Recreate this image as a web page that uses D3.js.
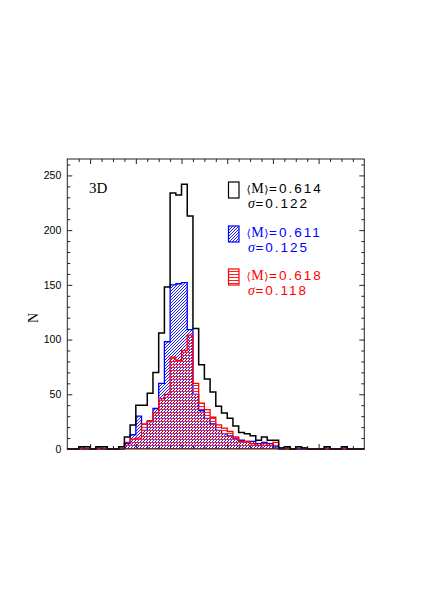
<!DOCTYPE html>
<html>
<head>
<meta charset="utf-8">
<script src="https://cdn.jsdelivr.net/npm/d3@7"></script>
<style>
body { margin: 0; background: #fff; }
text { fill: #000; }
</style>
</head>
<body>
<svg id="chart"></svg>
<script>
// histogram bins: lower edge of first bin and bin width (x axis has no labels)
const binStart = 0.1
const binWidth = 0.025

// counts per bin
const countsAll = [0, 0, 2, 2, 0, 2, 2, 0, 0, 2,
    11, 22, 40, 40, 51, 70, 106, 148, 234, 232,
    242, 213, 110, 77, 64, 52, 39, 33, 28, 21,
    15, 14, 12, 8, 11, 8, 8, 1, 2, 0,
    2, 1, 0, 0, 0, 2, 0, 0, 2, 0, 0, 0]
const countsBlue = [0, 0, 2, 0, 0, 2, 0, 0, 0, 0,
    5, 13, 30, 17, 25, 37, 60, 98, 150, 151,
    152, 109, 50, 35, 28, 23, 17, 14, 12, 10,
    8, 7, 7, 5, 6, 5, 2, 0, 2, 0,
    0, 0, 0, 0, 0, 2, 0, 0, 2, 0, 0, 0]
const countsRed = [0, 0, 0, 2, 0, 0, 2, 0, 0, 2,
    6, 9, 10, 23, 26, 33, 46, 50, 84, 81,
    90, 104, 60, 42, 36, 29, 22, 19, 16, 11,
    7, 7, 5, 3, 5, 3, 6, 1, 0, 0,
    2, 1, 0, 0, 0, 0, 0, 0, 0, 0, 0, 0]

const yMajor = [0, 50, 100, 150, 200, 250]
const yMinor = [10, 20, 30, 40, 60, 70, 80, 90, 110, 120, 130, 140, 160, 170, 180, 190, 210, 220, 230, 240, 260]
const xMajor = [0.2, 0.4, 0.6, 0.8, 1.0, 1.2]
const xMinor = [0.15, 0.25, 0.3, 0.35, 0.45, 0.5, 0.55, 0.65, 0.7, 0.75, 0.85, 0.9, 0.95, 1.05, 1.1, 1.15, 1.25, 1.3, 1.35]

const legendMeans = ["0.614", "0.611", "0.618"]
const legendSigmas = ["0.122", "0.125", "0.118"]
const panelLabel = "3D"
const yLabel = "N"

let w = 443,
    h = 590,
    pLeft = 67.3, pRight = 364.3, pTop = 159, pBottom = 449

let svg = d3.select("#chart").attr("width", w).attr("height", h)

let x = d3.scaleLinear().domain([0.1, 1.4]).range([pLeft, pRight])
let y = d3.scaleLinear().domain([0, 265]).range([pBottom, pTop])

// hatch patterns
let defs = svg.append("defs")
defs.append("pattern")
    .attr("id", "hatchBlue")
    .attr("patternUnits", "userSpaceOnUse")
    .attr("width", 3).attr("height", 3)
    .append("path")
    .attr("d", "M-1,1 l2,-2 M0,3 l3,-3 M2,4 l2,-2")
    .attr("stroke", "#1a1aff")
    .attr("stroke-width", 1)
defs.append("pattern")
    .attr("id", "hatchRed")
    .attr("patternUnits", "userSpaceOnUse")
    .attr("width", 4).attr("height", 3)
    .append("line")
    .attr("x1", 0).attr("x2", 4)
    .attr("y1", 1.5).attr("y2", 1.5)
    .attr("stroke", "#ff2020")
    .attr("stroke-width", 1)

function stepPoints(counts) {
    let pts = counts.map((c, i) => [binStart + i * binWidth, c])
    pts.push([binStart + counts.length * binWidth, counts[counts.length - 1]])
    return pts
}

let line = d3.line()
    .x(d => x(d[0]))
    .y(d => y(d[1]))
    .curve(d3.curveStepAfter)
let area = d3.area()
    .x(d => x(d[0]))
    .y0(y(0))
    .y1(d => y(d[1]))
    .curve(d3.curveStepAfter)

let g = svg.append("g")

// blue
g.append("path").attr("d", area(stepPoints(countsBlue))).attr("fill", "url(#hatchBlue)")
g.append("path").attr("d", line(stepPoints(countsBlue)))
    .attr("fill", "none").attr("stroke", "#0000ff").attr("stroke-width", 1.3)
// red
g.append("path").attr("d", area(stepPoints(countsRed))).attr("fill", "url(#hatchRed)")
g.append("path").attr("d", line(stepPoints(countsRed)))
    .attr("fill", "none").attr("stroke", "#ff0000").attr("stroke-width", 1.3)
// all
g.append("path").attr("d", line(stepPoints(countsAll)))
    .attr("fill", "none").attr("stroke", "#000").attr("stroke-width", 1.5)

// axes, ticks pointing inward
function addAxis(axis, tx, ty, labels) {
    let a = svg.append("g")
        .attr("transform", "translate(" + tx + "," + ty + ")")
        .call(axis)
    a.select(".domain").remove()
    a.selectAll("line").attr("stroke", "#222")
    if (!labels) a.selectAll("text").remove()
    return a
}

let yl = addAxis(d3.axisLeft(y).tickValues(yMajor).tickSizeInner(-5).tickSizeOuter(0).tickPadding(6), pLeft, 0, true)
yl.selectAll("text")
    .attr("font-family", "Liberation Sans, Arial, sans-serif")
    .attr("font-size", 10.5)
addAxis(d3.axisLeft(y).tickValues(yMinor).tickSizeInner(-3).tickSizeOuter(0), pLeft, 0, false)
addAxis(d3.axisRight(y).tickValues(yMajor).tickSizeInner(-5).tickSizeOuter(0), pRight, 0, false)
addAxis(d3.axisRight(y).tickValues(yMinor).tickSizeInner(-3).tickSizeOuter(0), pRight, 0, false)
addAxis(d3.axisTop(x).tickValues(xMajor).tickSizeInner(-5).tickSizeOuter(0), 0, pTop, false)
addAxis(d3.axisTop(x).tickValues(xMinor).tickSizeInner(-3).tickSizeOuter(0), 0, pTop, false)
addAxis(d3.axisBottom(x).tickValues(xMajor).tickSizeInner(-5).tickSizeOuter(0), 0, pBottom, false)
addAxis(d3.axisBottom(x).tickValues(xMinor).tickSizeInner(-3).tickSizeOuter(0), 0, pBottom, false)

svg.append("rect")
    .attr("x", pLeft).attr("y", pTop)
    .attr("width", pRight - pLeft).attr("height", pBottom - pTop)
    .attr("fill", "none").attr("stroke", "#222").attr("stroke-width", 1)

// y label
svg.append("text")
    .attr("transform", "translate(38," + ((pTop + pBottom) / 2 + 14) + ") rotate(-90)")
    .attr("text-anchor", "middle")
    .attr("font-family", "Liberation Serif, Times New Roman, serif")
    .attr("font-size", 14)
    .text(yLabel)

// panel label
svg.append("text")
    .attr("x", 89).attr("y", 193)
    .attr("font-family", "Liberation Serif, Times New Roman, serif")
    .attr("font-size", 15)
    .text(panelLabel)

// legend: each piece is its own text, placed after the previous one
const legendColors = ["#000", "#0000ff", "#ff0000"]
const legendFills = ["none", "url(#hatchBlue)", "url(#hatchRed)"]
const legendTop = [182, 226, 269]

function piece(parent, px, py, str, family, size, color, extra) {
    let t = parent.append("text")
        .attr("x", px).attr("y", py)
        .attr("font-family", family)
        .attr("font-size", size)
        .style("fill", color)
        .text(str)
    if (extra) extra(t)
    return px + t.node().getComputedTextLength()
}

legendMeans.forEach((m, i) => {
    let c = legendColors[i]
    let lg = svg.append("g")
    lg.append("rect")
        .attr("x", 228.5).attr("y", legendTop[i])
        .attr("width", 10.5).attr("height", 16)
        .attr("fill", legendFills[i])
        .attr("stroke", c).attr("stroke-width", 1.2)

    let b1 = legendTop[i] + 11
    let px = piece(lg, 246.5, b1, "\u27E8", "DejaVu Serif, serif", 11, c)
    px = piece(lg, px + 0.5, b1, "M", "Liberation Serif, serif", 14, c)
    px = piece(lg, px + 0.5, b1, "\u27E9", "DejaVu Serif, serif", 11, c)
    piece(lg, px + 0.5, b1, "=" + m, "Liberation Sans, Arial, sans-serif", 13.5, c,
        t => t.attr("letter-spacing", 2))

    let b2 = legendTop[i] + 25.5
    px = piece(lg, 248, b2, "\u03C3", "Liberation Serif, serif", 14, c,
        t => t.attr("font-style", "italic"))
    piece(lg, px + 0.5, b2, "=" + legendSigmas[i], "Liberation Sans, Arial, sans-serif", 13.5, c,
        t => t.attr("letter-spacing", 2))
})
</script>
</body>
</html>
